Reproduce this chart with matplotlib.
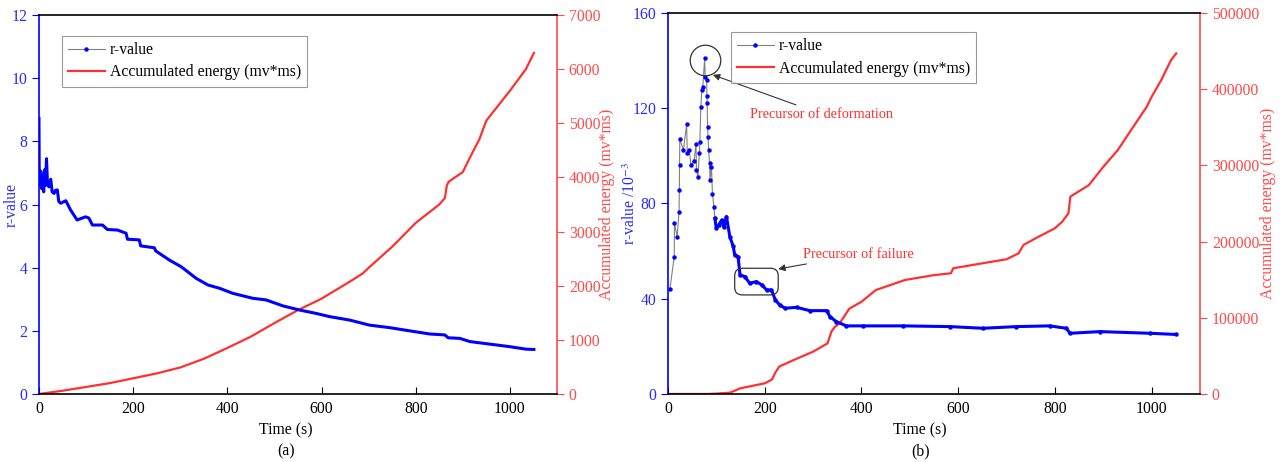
import numpy as np
import matplotlib
matplotlib.use("Agg")
import matplotlib.pyplot as plt
from matplotlib.lines import Line2D
from matplotlib.patches import FancyBboxPatch

plt.rcParams['font.family'] = ['Liberation Serif', 'DejaVu Serif']
plt.rcParams['mathtext.fontset'] = 'stix'

BLUE = '#0000FF'
BLUE_TXT = '#2A2AFF'
RED = '#FF3030'
RED_AX = '#FF4A4A'

# ---------------- panel (a) data ----------------
t_ra = [0, 0.5, 2, 4, 6, 8, 10, 12, 14, 16, 18, 21, 25, 28, 32, 35, 39, 42, 46, 57, 67, 81, 99, 106,
        113.5, 135, 145, 167, 185, 188, 213, 216, 245, 248, 277, 302, 334, 359, 383, 411, 454, 482,
        518, 553, 589, 617, 660, 702, 745, 787, 830, 862, 869, 894, 915, 957, 999, 1034, 1051]
r_a = [8.73, 7.2, 6.6, 7.05, 6.5, 6.9, 6.4, 7.1, 6.6, 7.45, 6.7, 6.56, 6.8, 6.4, 6.35, 6.45, 6.46, 6.1, 6.04,
       6.12, 5.83, 5.51, 5.61, 5.57, 5.35, 5.35, 5.21, 5.19, 5.09, 4.90, 4.88, 4.69, 4.63, 4.53,
       4.24, 4.03, 3.66, 3.45, 3.35, 3.19, 3.03, 2.98, 2.79, 2.66, 2.55, 2.45, 2.34, 2.18, 2.10,
       2.00, 1.90, 1.87, 1.78, 1.76, 1.66, 1.58, 1.50, 1.42, 1.41]

t_ea = [0, 50, 100, 150, 200, 250, 300, 350, 400, 450, 500, 550, 600, 617, 660, 688, 700, 750,
        800, 850, 862, 866, 870, 900, 920, 935, 950, 1000, 1034, 1051]
e_a = [0, 60, 130, 200, 290, 380, 490, 650, 850, 1060, 1310, 1550, 1760, 1850, 2075, 2230, 2330,
       2720, 3160, 3500, 3620, 3850, 3920, 4100, 4450, 4700, 5050, 5600, 6000, 6300]

# ---------------- panel (b) data ----------------
t_rb = [4, 13, 13.5, 19, 23, 23.5, 24, 24.5, 32, 38.6, 40, 44, 47.5, 54, 58, 59, 62, 65,
        66, 68, 70, 72, 76, 77, 80, 80.5, 81, 82, 83, 84, 86, 87, 90, 92, 95, 97, 100, 105,
        111, 116, 121, 128, 135, 138, 145, 149, 159, 169, 183, 194, 204, 214, 222, 231, 242,
        266, 293, 328, 335, 348, 369, 403, 486, 583, 651, 720, 789, 824, 831, 893, 996, 1051]
r_b = [44, 57.7, 72, 66, 76.6, 85.7, 96, 107, 102.5, 113.4, 101, 102.5, 96, 98, 105, 94, 91, 101,
       106, 120.7, 127.7, 129, 141, 133, 132, 125, 122, 112, 108, 102.5, 97, 90, 95.5, 84, 78.7,
       73.8, 69.6, 71, 73, 70, 74.5, 66, 62, 58.4, 57.7, 50, 49.3, 46.5, 47.2, 45.8, 43.7, 43.7,
       39.5, 37.4, 36, 36.4, 35, 35, 32.5, 30.4, 28.6, 28.6, 28.6, 28.3, 27.6, 28.3, 28.6, 27.6,
       25.5, 26.2, 25.5, 25]

t_eb = [0, 80, 100, 128, 150, 200, 215, 222, 230, 260, 300, 330, 338, 345, 355, 375, 400, 430,
        460, 490, 550, 585, 590, 650, 700, 725, 735, 760, 800, 815, 828, 832, 870, 900, 930,
        960, 990, 1000, 1020, 1040, 1051]
e_b = [0, 0, 500, 1700, 7500, 14000, 19000, 28000, 36000, 44600, 55500, 66500, 82000, 88000,
       92800, 112000, 121000, 136500, 143000, 149600, 156000, 158400, 165000, 171500, 176800,
       184600, 195500, 204300, 217500, 226000, 237000, 259000, 274000, 298000, 320000, 348700,
       377000, 390000, 412000, 438000, 447000]

FS = 11.3

fig = plt.figure(figsize=(12.86, 4.62), dpi=100)
ax_a = fig.add_axes([0.0303, 0.1472, 0.4028, 0.8203])
ax_b = fig.add_axes([0.5194, 0.1472, 0.4137, 0.8247])


def style_axes(ax, ax2):
    ax.spines['left'].set_color(BLUE)
    ax.spines['left'].set_linewidth(1.2)
    ax.spines['right'].set_visible(False)
    ax2.spines['right'].set_color(RED_AX)
    ax2.spines['right'].set_linewidth(1.2)
    for s in ['left', 'top', 'bottom']:
        ax2.spines[s].set_visible(False)
    ax.spines['top'].set_linewidth(1.2)
    ax.spines['bottom'].set_linewidth(1.2)
    ax.tick_params(axis='y', colors=BLUE, labelcolor=BLUE_TXT, labelsize=FS, direction='out', length=5)
    ax.tick_params(axis='x', direction='in', length=5, labelsize=FS, pad=5)
    ax2.tick_params(axis='y', colors=RED_AX, labelsize=FS, direction='out', length=5)


legend_handles = [
    Line2D([], [], color='gray', lw=0.8, marker='o', ms=2.2, mfc=BLUE, mec=BLUE),
    Line2D([], [], color=RED, lw=1.6),
]
legend_labels = ['r-value', 'Accumulated energy (mv*ms)']
leg_kw = dict(fontsize=FS, frameon=True, fancybox=False, edgecolor='gray', handlelength=2.35,
              borderpad=0.4, labelspacing=0.4, handletextpad=0.3, borderaxespad=0)

# ---------------- (a) ----------------
ax_a2 = ax_a.twinx()
ax_a.plot(t_ra, r_a, color=BLUE, lw=2.2, zorder=3)
ax_a2.plot(t_ea, e_a, color=RED, lw=1.6)
ax_a.set_xlim(0, 1100)
ax_a.set_ylim(0, 12)
ax_a.set_xticks([0, 200, 400, 600, 800, 1000])
ax_a.set_yticks(np.arange(0, 13, 2))
ax_a2.set_ylim(0, 7000)
ax_a2.set_yticks(np.arange(0, 7001, 1000))
style_axes(ax_a, ax_a2)
ax_a.set_zorder(ax_a2.get_zorder() + 1)
ax_a.patch.set_visible(False)
ax_a.set_ylabel('r-value', color=BLUE_TXT, fontsize=FS)
ax_a.yaxis.set_label_coords(-0.037, 0.5)
ax_a2.set_ylabel('Accumulated energy (mv*ms)', color=RED_AX, fontsize=FS)
ax_a2.yaxis.set_label_coords(1.081, 0.5)
ax_a.text(0.477, -0.075, 'Time (s)', transform=ax_a.transAxes, ha='center', va='top', fontsize=FS)
ax_a.text(0.477, -0.13, '(a)', transform=ax_a.transAxes, ha='center', va='top', fontsize=FS)
leg = ax_a.legend(legend_handles, legend_labels, loc='upper left', bbox_to_anchor=(0.044, 0.945),
                  **leg_kw)
leg.get_frame().set_linewidth(0.8)

# ---------------- (b) ----------------
ax_b2 = ax_b.twinx()
ax_b.plot(t_rb, r_b, color='gray', lw=0.8, marker='o', ms=2.2, mfc=BLUE, mec=BLUE, zorder=3)
dense = [i for i, t in enumerate(t_rb) if t >= 97]
ax_b.plot([t_rb[i] for i in dense], [r_b[i] for i in dense], color=BLUE, lw=2.2, zorder=3)
ax_b2.plot(t_eb, e_b, color=RED, lw=1.6)
ax_b.set_xlim(0, 1100)
ax_b.set_ylim(0, 160)
ax_b.set_xticks([0, 200, 400, 600, 800, 1000])
ax_b.set_yticks(np.arange(0, 161, 40))
ax_b2.set_ylim(0, 500000)
ax_b2.set_yticks(np.arange(0, 500001, 100000))
style_axes(ax_b, ax_b2)
ax_b.set_zorder(ax_b2.get_zorder() + 1)
ax_b.patch.set_visible(False)
ax_b.set_ylabel('r-value /10$^{-3}$', color=BLUE_TXT, fontsize=FS)
ax_b.yaxis.set_label_coords(-0.054, 0.5)
ax_b2.set_ylabel('Accumulated energy (mv*ms)', color=RED_AX, fontsize=FS)
ax_b2.yaxis.set_label_coords(1.113, 0.5)
ax_b.text(0.474, -0.075, 'Time (s)', transform=ax_b.transAxes, ha='center', va='top', fontsize=FS)
ax_b.text(0.474, -0.13, '(b)', transform=ax_b.transAxes, ha='center', va='top', fontsize=FS)
leg = ax_b.legend(legend_handles, legend_labels, loc='upper left', bbox_to_anchor=(0.118, 0.95),
                  **leg_kw)
leg.get_frame().set_linewidth(0.8)

# annotations
ax_b.plot([76], [140.3], 'o', ms=22, mfc='none', mec='#333333', mew=0.9, zorder=4)
ax_b.annotate('Precursor of deformation', xy=(93, 134), xytext=(170, 117.5),
              fontsize=10.3, color=RED, va='center', ha='left',
              arrowprops=dict(arrowstyle='-|>', color='#333333', lw=0.8, mutation_scale=10,
                              shrinkA=0, shrinkB=0))
box = FancyBboxPatch((138, 41.6), 90, 11.2, boxstyle='round,pad=0,rounding_size=16',
                     mutation_aspect=0.2, fc='none', ec='#333333', lw=0.9, zorder=4)
ax_b.add_patch(box)
ax_b.annotate('Precursor of failure', xy=(228, 52.5), xytext=(280, 58.5),
              fontsize=10.3, color=RED, va='center', ha='left',
              arrowprops=dict(arrowstyle='-|>', color='#333333', lw=0.8, mutation_scale=10,
                              shrinkA=0, shrinkB=0))

fig.savefig('out.png', dpi=100)
